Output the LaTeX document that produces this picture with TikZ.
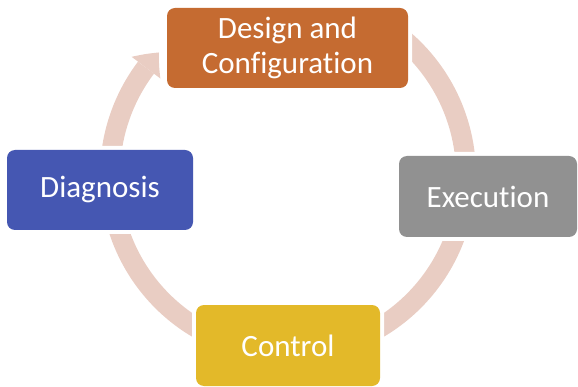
\documentclass[tikz,border=0pt]{standalone}
\usepackage{fontspec}
\setmainfont{Carlito}[Ligatures=NoCommon]
\usetikzlibrary{arrows.meta,bending}
\definecolor{ringc}{RGB}{233,205,195}
\definecolor{orangec}{RGB}{197,107,49}
\definecolor{grayc}{RGB}{145,145,145}
\definecolor{goldc}{RGB}{227,185,41}
\definecolor{bluec}{RGB}{69,87,178}
\begin{document}
\begin{tikzpicture}[x=1pt,y=1pt,
  box/.style={rounded corners=8pt, text=white, font=\fontsize{31}{35}\selectfont,
    align=center, inner sep=0pt, preaction={draw=white, line width=8pt}},
  ringarc/.style={draw=ringc, line width=20pt}]
\useasboundingbox (0,0) rectangle (578,-387);
\coordinate (c) at (288,-175);
% ring arcs
\draw[ringarc] ([shift={(52:178)}]c) arc[start angle=52,end angle=0,radius=178];
\draw[ringarc] ([shift={(0:178)}]c) arc[start angle=0,end angle=-70,radius=178];
\draw[ringarc] ([shift={(-110:178)}]c) arc[start angle=-110,end angle=-180,radius=178];
\draw[ringarc, -{Triangle[width=36pt,length=20pt,line width=0pt,bend]}]
  ([shift={(180:178)}]c) arc[start angle=180,end angle=136.5,radius=178];
% boxes
\node[box, fill=orangec, minimum width=241pt, minimum height=80pt] (design) at (287.5,-48) {Design and\\Configuration};
\node[box, fill=grayc, minimum width=178pt, minimum height=81pt] (exec) at (488,-196.5) {Execution};
\node[box, fill=goldc, minimum width=184pt, minimum height=81pt] (control) at (288,-345.5) {Control};
\node[box, fill=bluec, minimum width=186pt, minimum height=80pt] (diag) at (100,-190) {Diagnosis};
\end{tikzpicture}
\end{document}
